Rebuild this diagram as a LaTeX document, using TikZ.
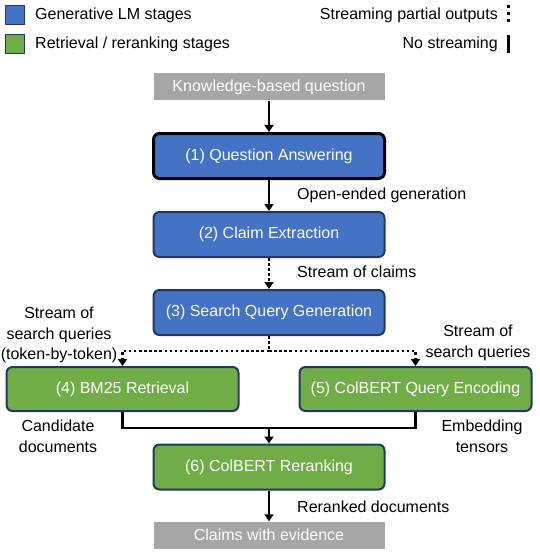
\documentclass[tikz,border=0pt]{standalone}
\usepackage{fontspec}
\setmainfont{Liberation Sans}
\usetikzlibrary{arrows.meta}
\definecolor{genblue}{HTML}{4472C4}
\definecolor{retgreen}{HTML}{70AD47}
\definecolor{navy}{HTML}{1F3864}
\definecolor{iogray}{HTML}{A6A6A6}
\tikzset{
  stage/.style={rectangle, rounded corners=6pt, draw=navy, line width=2pt, text=white,
    minimum width=231pt, minimum height=45pt, inner sep=0pt, font=\fontsize{16}{19}\selectfont},
  gen/.style={stage, fill=genblue},
  ret/.style={stage, fill=retgreen},
  iobox/.style={rectangle, fill=iogray, text=white, minimum width=231pt, minimum height=27pt,
    inner sep=0pt, font=\fontsize{16}{19}\selectfont},
  lbl/.style={font=\fontsize{16}{20.5}\selectfont, inner sep=0pt, align=center},
  solidarr/.style={line width=2.5pt, -{Triangle[length=7pt,width=9pt]}},
  dotline/.style={line width=2.5pt, dash pattern=on 2.5pt off 2.6pt},
  dotarr/.style={dotline, -{Triangle[length=7pt,width=9pt]}},
  solidline/.style={line width=2.5pt},
  legsq/.style={rectangle, draw=navy, line width=1.5pt, minimum size=19pt, inner sep=0pt}
}
\begin{document}
\begin{tikzpicture}[x=1pt,y=-1pt]
\useasboundingbox (0,0) rectangle (540,559);
% legend
\node[legsq, fill=genblue] (lg1) at (15,15) {};
\node[legsq, fill=retgreen] (lg2) at (15,44) {};
\node[lbl, anchor=west] (lt1) at (35,15) {Generative LM stages};
\node[lbl, anchor=west] (lt2) at (35,44) {Retrieval / reranking stages};
\node[lbl, anchor=east] (lt3) at (498,15) {Streaming partial outputs};
\node[lbl, anchor=east] (lt4) at (498,44) {No streaming};
\coordinate (ds1) at (508,5);
\coordinate (ds2) at (508,25);
\coordinate (ns1) at (508,35);
\coordinate (ns2) at (508,53);
\draw[line width=3pt, dash pattern=on 3pt off 4pt] (ds1) -- (ds2);
\draw[line width=3pt] (ns1) -- (ns2);
% nodes
\node[iobox] (kq) at (269,87) {Knowledge-based question};
\node[gen, draw=black, line width=3pt] (b1) at (269,156) {(1) Question Answering};
\node[gen] (b2) at (269,234.5) {(2) Claim Extraction};
\node[gen] (b3) at (269,312.5) {(3) Search Query Generation};
\node[ret, minimum width=232pt, minimum height=44pt] (b4) at (122.5,389) {(4) BM25 Retrieval};
\node[ret, minimum width=232pt, minimum height=44pt] (b5) at (415.5,389) {(5) ColBERT Query Encoding};
\node[ret] (b6) at (269,467) {(6) ColBERT Reranking};
\node[iobox] (ce) at (269,535) {Claims with evidence};
% labels
\node[lbl, anchor=west] (l1) at (297,195) {Open-ended generation};
\node[lbl, anchor=west] (l2) at (297,272) {Stream of claims};
\node[lbl] (l3) at (59,335) {Stream of\\search queries\\(token-by-token)};
\node[lbl] (l4) at (478,343) {Stream of\\search queries};
\node[lbl] (l5) at (58,436.5) {Candidate\\documents};
\node[lbl] (l6) at (482,436.5) {Embedding\\tensors};
\node[lbl, anchor=west] (l7) at (297,507) {Reranked documents};
% connectors
\coordinate (j1) at (269,351);
\coordinate (j2) at (269,428);
\draw[solidarr] (kq) -- (b1);
\draw[solidarr] (b1) -- (b2);
\draw[dotarr] (b2) -- (b3);
\draw[dotline] (b3.south) -- (j1);
\draw[dotarr] (j1) -| (b4.north);
\draw[dotarr] (j1) -| (b5.north);
\draw[solidline] (b4.south) |- (j2);
\draw[solidline] (b5.south) |- (j2);
\draw[solidarr] (j2) -- (b6.north);
\draw[solidarr] (b6) -- (ce);
\end{tikzpicture}
\end{document}
